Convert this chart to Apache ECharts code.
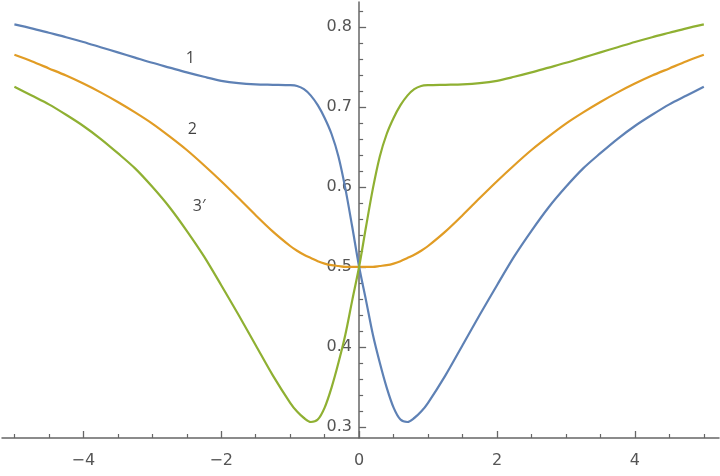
<!DOCTYPE html>
<html>
<head>
<meta charset="utf-8">
<script src="https://cdn.jsdelivr.net/npm/echarts@6/dist/echarts.min.js"></script>
<style>html,body{margin:0;padding:0;background:#fff;}#c{width:720px;height:476px;}</style>
</head>
<body>
<div id="c"></div>
<script>
// x sample positions
var xs = [-5,-4.75,-4.5,-4.25,-4,-3.75,-3.5,-3.25,-3,-2.75,-2.5,-2.25,-2,-1.75,-1.5,-1.25,-1,
  -0.9,-0.8,-0.7,-0.6,-0.5,-0.4,-0.3,-0.2,-0.1,0,0.1,0.2,0.3,0.4,0.5,0.6,0.7,0.8,0.9,
  1,1.25,1.5,1.75,2,2.25,2.5,2.75,3,3.25,3.5,3.75,4,4.25,4.5,4.75,5];
// curve 1 (blue)
var curve1 = [0.803,0.798,0.7925,0.787,0.781,0.7745,0.768,0.7615,0.755,0.749,0.743,0.7375,0.7325,0.7295,0.728,0.7275,0.727,
  0.726,0.722,0.714,0.702,0.686,0.666,0.638,0.598,0.55,0.5,0.458,0.415,0.380,0.349,0.324,0.309,0.306,0.311,0.319,
  0.330,0.364,0.402,0.440,0.477,0.513,0.545,0.5745,0.600,0.623,0.642,0.660,0.676,0.690,0.703,0.714,0.725];
// curve 2 (orange)
var curve2 = [0.765,0.757,0.748,0.739,0.729,0.718,0.706,0.693,0.679,0.663,0.646,0.627,0.607,0.586,0.5645,0.544,0.526,
  0.520,0.515,0.511,0.507,0.504,0.502,0.501,0.5,0.5,0.5,0.5,0.5,0.501,0.502,0.504,0.507,0.511,0.515,0.520,
  0.526,0.544,0.5645,0.586,0.607,0.627,0.646,0.663,0.679,0.693,0.706,0.718,0.729,0.739,0.748,0.757,0.765];
// curve 3' (green)
var curve3 = [0.725,0.714,0.703,0.690,0.676,0.660,0.642,0.623,0.600,0.5745,0.545,0.513,0.477,0.440,0.402,0.364,0.330,
  0.319,0.311,0.306,0.309,0.324,0.349,0.380,0.415,0.458,0.5,0.55,0.598,0.638,0.666,0.686,0.702,0.714,0.722,0.726,
  0.727,0.7275,0.728,0.7295,0.7325,0.7375,0.743,0.749,0.755,0.7615,0.768,0.7745,0.781,0.787,0.7925,0.798,0.803];
// tick values / labels
var xMajorTicks = [-4,-2,0,2,4];
var xMinorTicks = [-5,-4.5,-3.5,-3,-2.5,-1.5,-1,-0.5,0.5,1,1.5,2.5,3,3.5,4.5,5];
var yMajorTicks = [0.3,0.4,0.5,0.6,0.7,0.8];
var yMinorTicks = [0.32,0.34,0.36,0.38,0.42,0.44,0.46,0.48,0.52,0.54,0.56,0.58,0.62,0.64,0.66,0.68,0.72,0.74,0.76,0.78,0.82];
// curve annotations (text, x, y in data units)
var annoText = ['1','2','3\u2032'];
var annoX = [-2.45,-2.42,-2.32];
var annoY = [0.761,0.672,0.576];

function zip(a,b){ return a.map(function(v,i){ return [v,b[i]]; }); }

var X_MIN = -5.18, X_MAX = 5.22, Y_MIN = 0.286, Y_MAX = 0.831;
var axisCol = '#666';
var labelStyle = {color:'#555', fontSize:16, fontFamily:'DejaVu Sans'};
var chart = echarts.init(document.getElementById('c'), null, {renderer:'canvas'});
chart.setOption({
  animation:false,
  backgroundColor:'#fff',
  grid:[
    {left:2, right:1, top:2, bottom:38, containLabel:false, outerBoundsMode:'none'},
    {left:359, width:100, top:2, bottom:38, containLabel:false, outerBoundsMode:'none'}
  ],
  xAxis:[{
    type:'value', gridIndex:0, min:X_MIN, max:X_MAX, position:'bottom',
    axisLine:{show:true, onZero:false, lineStyle:{color:axisCol, width:1.5}},
    axisTick:{show:true, inside:true, length:7, customValues:xMajorTicks, lineStyle:{color:axisCol, width:1.3}},
    axisLabel:Object.assign({show:true, margin:15, customValues:xMajorTicks,
      formatter:function(v){ return v<0 ? '\u2212'+Math.abs(v) : String(v); }}, labelStyle),
    splitLine:{show:false}
  },{
    type:'value', gridIndex:0, min:X_MIN, max:X_MAX, position:'bottom',
    axisLine:{show:false, onZero:false},
    axisTick:{show:true, inside:true, length:4, customValues:xMinorTicks, lineStyle:{color:axisCol, width:1.2}},
    axisLabel:{show:false},
    splitLine:{show:false}
  },{
    type:'value', gridIndex:1, min:0, max:1, show:false
  }],
  yAxis:[{
    type:'value', gridIndex:0, min:Y_MIN, max:Y_MAX, position:'left',
    axisLine:{show:true, onZero:true, onZeroAxisIndex:0, lineStyle:{color:axisCol, width:1.5}},
    axisTick:{show:true, inside:true, length:7, customValues:yMajorTicks, lineStyle:{color:axisCol, width:1.3}},
    axisLabel:{show:false},
    splitLine:{show:false}
  },{
    type:'value', gridIndex:0, min:Y_MIN, max:Y_MAX, position:'left',
    axisLine:{show:false, onZero:true, onZeroAxisIndex:1},
    axisTick:{show:true, inside:true, length:4, customValues:yMinorTicks, lineStyle:{color:axisCol, width:1.2}},
    axisLabel:{show:false},
    splitLine:{show:false}
  },{
    type:'value', gridIndex:1, min:Y_MIN, max:Y_MAX, position:'left',
    axisLine:{show:false, onZero:false},
    axisTick:{show:false},
    axisLabel:Object.assign({show:true, margin:7, customValues:yMajorTicks,
      formatter:function(v){ return v.toFixed(1); }}, labelStyle),
    splitLine:{show:false}
  }],
  series:[
    {type:'line', name:'1', xAxisIndex:0, yAxisIndex:0, data:zip(xs,curve1), showSymbol:false, smooth:0.3, z:3,
      lineStyle:{color:'#5E81B5', width:2.2}, itemStyle:{color:'#5E81B5'}},
    {type:'line', name:'2', xAxisIndex:0, yAxisIndex:0, data:zip(xs,curve2), showSymbol:false, smooth:0.3, z:2,
      lineStyle:{color:'#E19C24', width:2.2}, itemStyle:{color:'#E19C24'}},
    {type:'line', name:'3', xAxisIndex:0, yAxisIndex:0, data:zip(xs,curve3), showSymbol:false, smooth:0.3, z:4,
      lineStyle:{color:'#8FB032', width:2.2}, itemStyle:{color:'#8FB032'}},
    {type:'scatter', xAxisIndex:0, yAxisIndex:0,
      data:annoX.map(function(x,i){ return {value:[x,annoY[i]], name:annoText[i]}; }),
      symbolSize:1, itemStyle:{color:'rgba(0,0,0,0)'}, silent:true, z:5,
      label:{show:true, position:'inside', formatter:'{b}', color:'#111', fontSize:16, fontFamily:'Open Sans'}}
  ]
});
</script>
</body>
</html>
